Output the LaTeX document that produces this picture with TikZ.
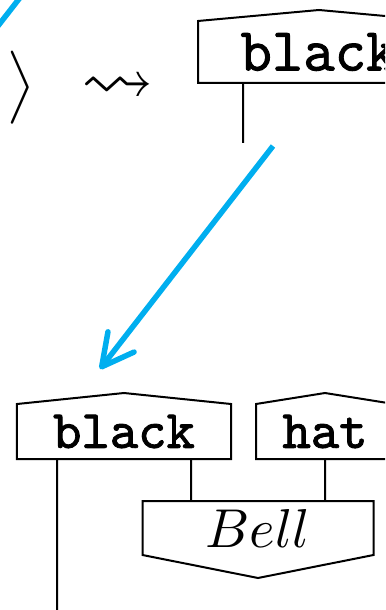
\documentclass[tikz,border=0pt]{standalone}
\usepackage{amsmath,amssymb}
\usepackage{fontspec}
\newfontfamily\labelfont{Latin Modern Mono}[FakeBold=1.6]
\usepackage{xcolor}
\usetikzlibrary{arrows.meta}
\definecolor{flowblue}{RGB}{0,174,239}

\begin{document}
\begin{tikzpicture}[x=0.2pt,y=-0.2pt,
  state/.style={rectangle, inner sep=0pt, minimum height=10.6pt,
    font=\fontsize{10.8}{13}\selectfont\labelfont,
    append after command={\pgfextra{\draw (\tikzlastnode.north west)
      -- ([yshift=2.2pt]\tikzlastnode.north) -- (\tikzlastnode.north east)
      -- (\tikzlastnode.south east) -- (\tikzlastnode.south west) -- cycle;}}},
  effect/.style={rectangle, inner sep=0pt, minimum height=10.4pt,
    font=\fontsize{10.8}{13}\selectfont,
    append after command={\pgfextra{\draw (\tikzlastnode.north west)
      -- (\tikzlastnode.north east) -- (\tikzlastnode.south east)
      -- ([yshift=-4.6pt]\tikzlastnode.south) -- (\tikzlastnode.south west) -- cycle;}}},
  flow/.style={flowblue, line width=1.1pt},
  big/.style={inner sep=0pt, font=\fontsize{12.2}{14.6}\selectfont}]
  \useasboundingbox (0,0) rectangle (385,610);
  \clip (0,0) rectangle (385,610);

  % oben
  \coordinate (prevfrom) at (40,-28);
  \coordinate (prevto) at (-20,49);
  \draw[flow] (prevfrom) -- (prevto);
  \node[big, anchor=east] (ket) at (36,88) {$|\text{\labelfont hat}\mkern1.5mu\big\rangle$};
  \node[inner sep=0pt, font=\fontsize{14.5}{17}\selectfont] (leads) at (118,89) {$\rightsquigarrow$};
  \node[state, minimum width=48pt, minimum height=12pt,
    font=\fontsize{12.2}{14.6}\selectfont\labelfont] (topblack) at (319,52) {black};
  \coordinate (topout) at (243,143);
  \draw ([xshift=-15.2pt]topblack.south) -- (topout);

  % Pfeil
  \coordinate (from) at (273,146);
  \coordinate (to) at (100,369);
  \draw[flow, -{Straight Barb[length=6.3pt,width=6.6pt,round]}] (from) -- (to);

  % unten
  \node[state, minimum width=42.4pt] (black) at (124,431.5) {black};
  \node[state, minimum width=27.2pt] (hat) at (325,431.5) {hat};
  \node[effect, minimum width=45.8pt] (bell) at (258,528) {$Bell$};
  \coordinate (blackout) at (57,615);
  \draw ([xshift=-13.4pt]black.south) -- (blackout);
  \draw ([xshift=13.4pt]black.south) -- ([xshift=-13.4pt]bell.north);
  \draw (hat.south) -- ([xshift=13.4pt]bell.north);

\end{tikzpicture}
\end{document}
